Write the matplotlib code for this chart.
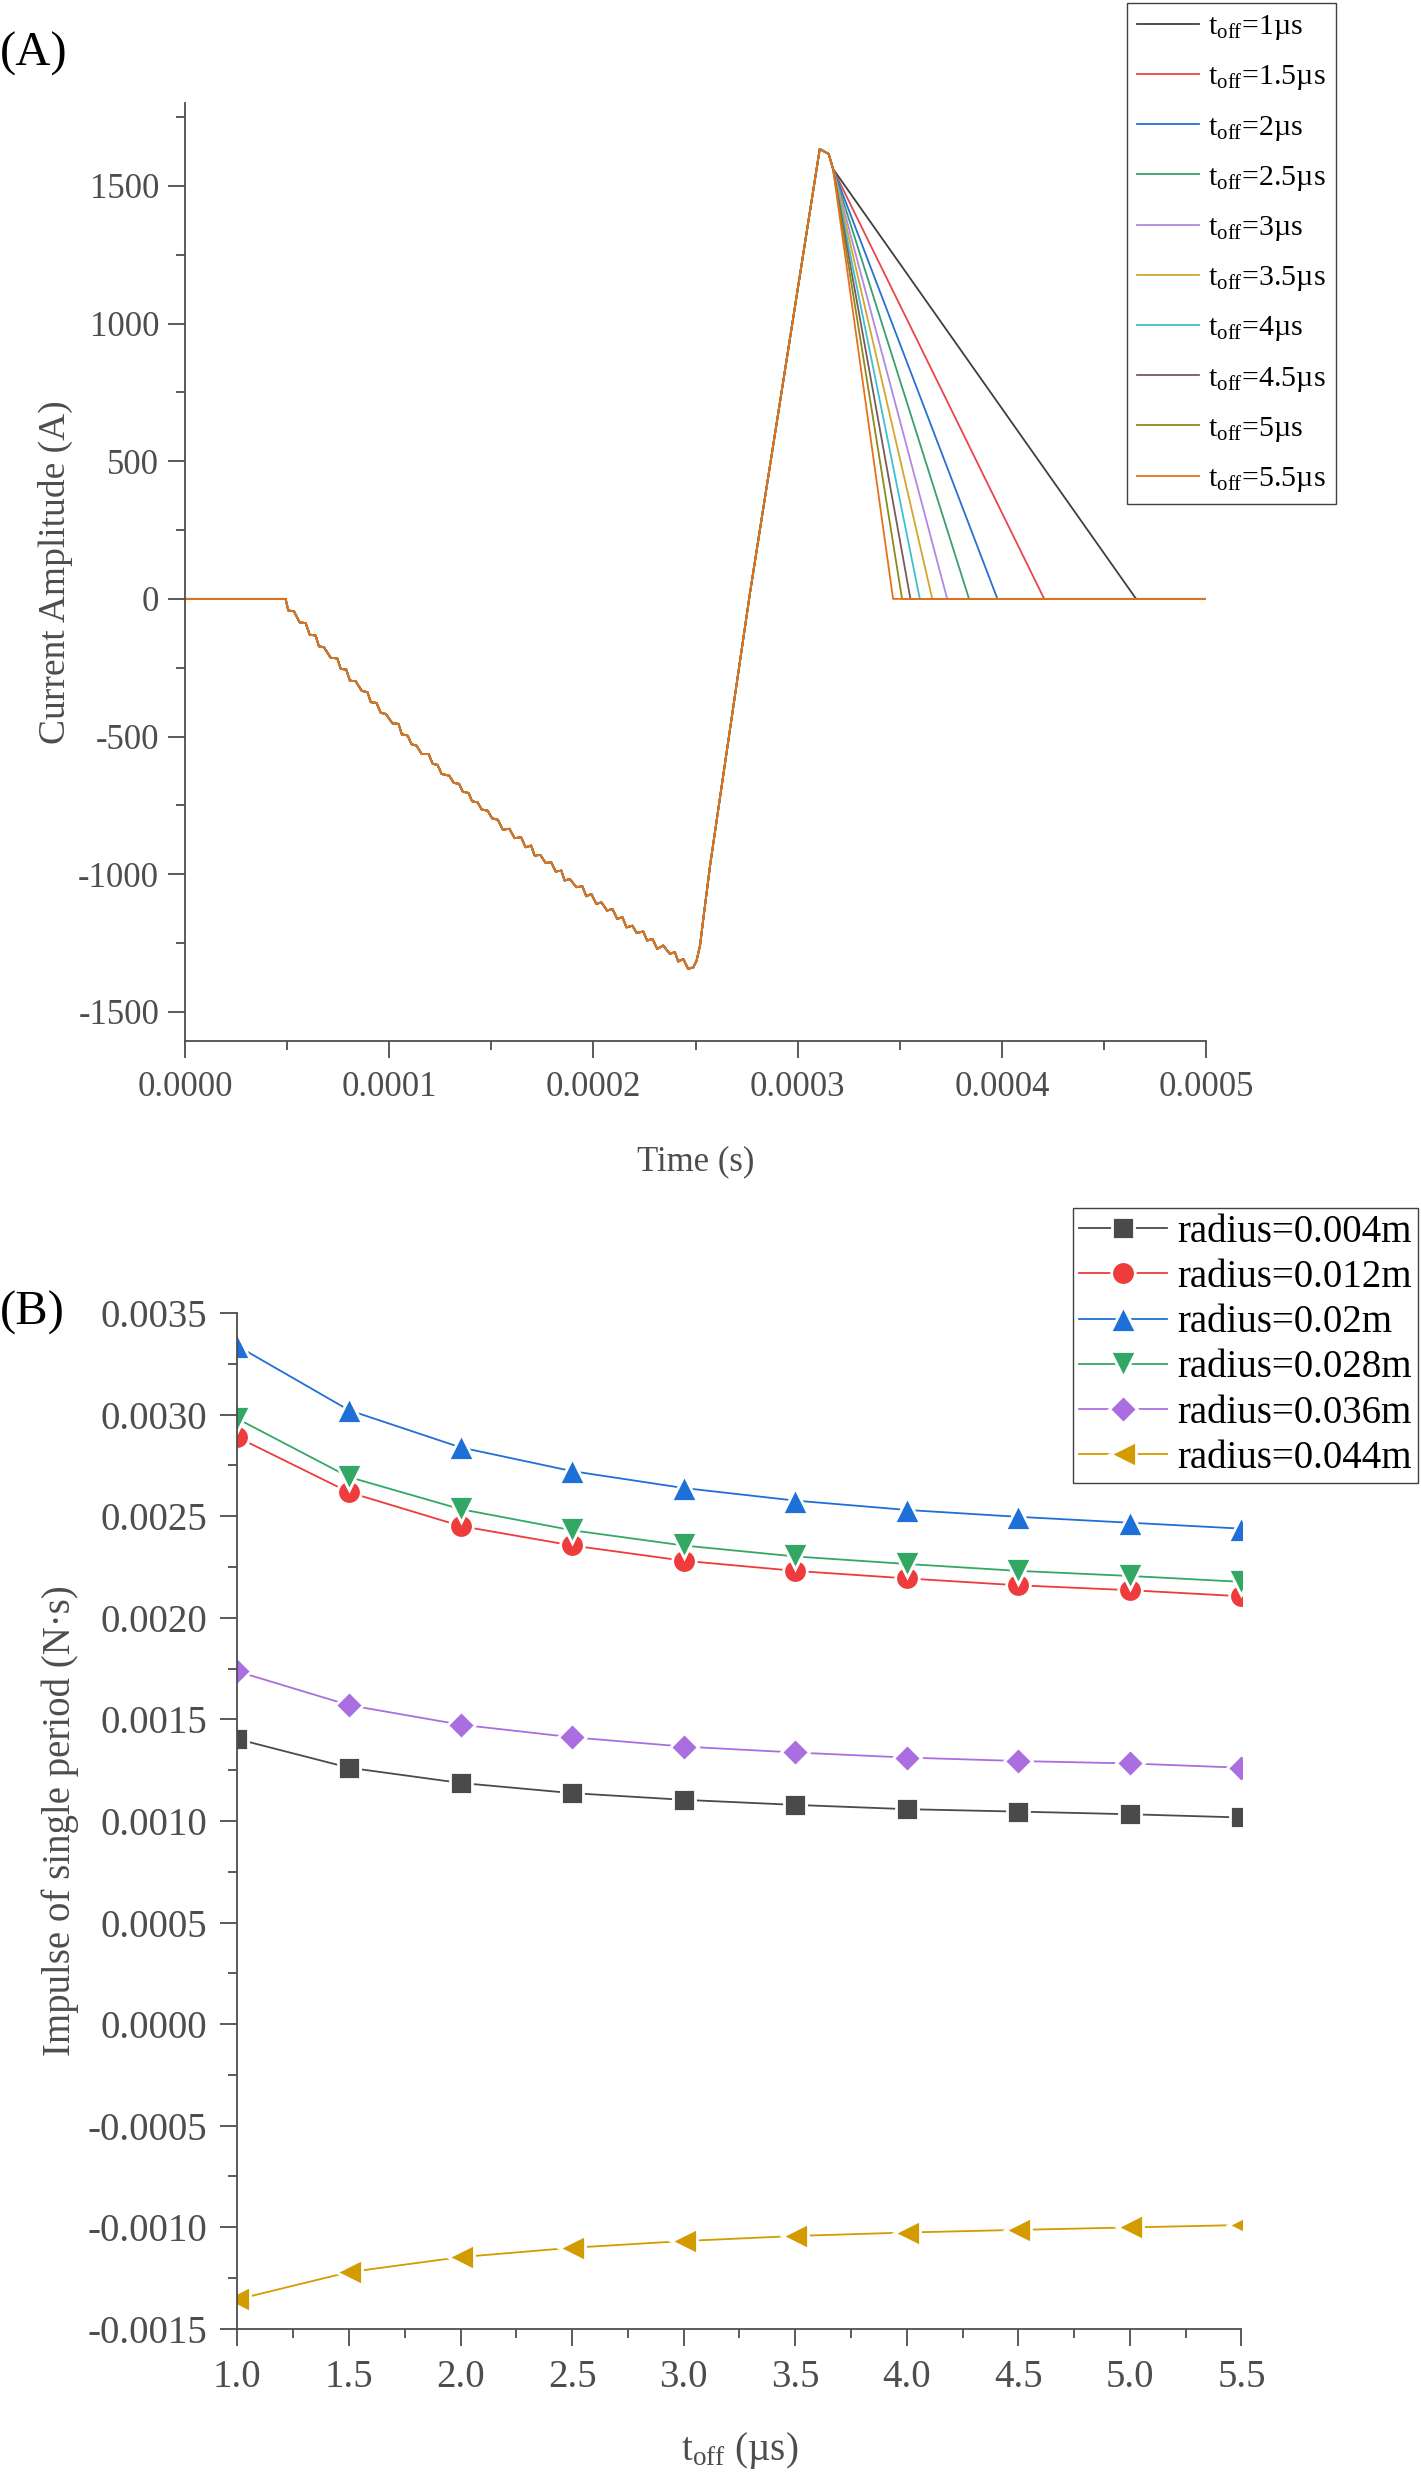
import matplotlib
matplotlib.use("Agg")
import matplotlib.pyplot as plt
from matplotlib.ticker import MultipleLocator, FormatStrFormatter

plt.rcParams['font.family'] = ['Liberation Serif', 'DejaVu Serif']
plt.rcParams['mathtext.fontset'] = 'custom'
plt.rcParams['mathtext.rm'] = 'Liberation Serif'
plt.rcParams['mathtext.it'] = 'Liberation Serif:italic'
plt.rcParams['axes.unicode_minus'] = False

# ---------------- data: panel A (time in microseconds, current in A) ----------------
common_t_us = [0, 49.3, 50.6, 53.4, 56.1, 59.1, 61.1, 64.0, 65.6, 68.1, 71.4, 74.6, 76.3, 79.0,
               80.8, 83.6, 86.6, 89.4, 91.0, 93.8, 95.9, 98.4, 101.6, 104.6, 106.2, 109.0, 111.0,
               113.4, 115.9, 119.3, 121.3, 123.7, 125.7, 129.4, 131.6, 134.3, 136.0, 138.9, 140.6,
               143.3, 145.3, 148.2, 150.4, 153.2, 155.6, 158.9, 161.4, 164.6, 166.8, 169.5, 171.2,
               174.0, 176.6, 179.4, 181.5, 184.3, 185.9, 188.4, 191.6, 194.6, 196.5, 199.0, 201.4,
               203.9, 206.7, 209.3, 211.6, 214.2, 216.2, 219.1, 221.1, 224.4, 226.3, 228.9, 231.2,
               234.2, 237.4, 239.9, 241.5, 244.0, 246.4, 248.9, 250.5, 252.2, 253.8, 257.1, 263.3,
               276.7, 310.8, 315.2, 317.3]
common_I = [0, 0, -42, -45, -85, -88, -130, -133, -172, -176, -214, -216, -254, -257,
            -297, -299, -334, -339, -375, -378, -414, -418, -452, -454, -492, -496, -528,
            -533, -563, -563, -599, -603, -636, -642, -668, -672, -700, -705, -735,
            -739, -765, -769, -797, -802, -838, -835, -869, -866, -902, -896, -932,
            -930, -959, -957, -990, -987, -1023, -1017, -1047, -1044, -1080, -1072, -1108,
            -1102, -1132, -1126, -1162, -1156, -1193, -1187, -1213, -1208, -1241, -1235, -1271,
            -1259, -1289, -1283, -1317, -1308, -1344, -1338, -1314, -1259, -1162, -969, -654,
            24, 1634, 1616, 1562]

toff_labels = ['1', '1.5', '2', '2.5', '3', '3.5', '4', '4.5', '5', '5.5']
# zero-crossing time of the falling edge for each t_off (us)
tail_end_us = [465.7, 420.7, 397.8, 383.9, 373.2, 365.9, 359.8, 355.2, 351.1, 346.7]
t_final_us = 500.0
colors_A = ['#3f3f3f', '#e8464a', '#2a6fd2', '#38a06c', '#b487e0', '#d4a62c',
            '#3cc0d0', '#7a5a5a', '#8a8a1e', '#e8701c']

# ---------------- data: panel B ----------------
toff_B = [1.0, 1.5, 2.0, 2.5, 3.0, 3.5, 4.0, 4.5, 5.0, 5.5]
radius_labels = ['radius=0.004m', 'radius=0.012m', 'radius=0.02m',
                 'radius=0.028m', 'radius=0.036m', 'radius=0.044m']
imp_004 = [0.001403, 0.001262, 0.001187, 0.001137, 0.001104, 0.001079, 0.001058, 0.001046, 0.001033, 0.001017]
imp_012 = [0.002889, 0.002618, 0.002452, 0.002356, 0.002281, 0.002231, 0.002194, 0.002160, 0.002136, 0.002106]
imp_020 = [0.003338, 0.003022, 0.002839, 0.002722, 0.002639, 0.002577, 0.002531, 0.002497, 0.002468, 0.002439]
imp_028 = [0.002980, 0.002693, 0.002535, 0.002431, 0.002356, 0.002302, 0.002265, 0.002231, 0.002206, 0.002177]
imp_036 = [0.001736, 0.001570, 0.001474, 0.001412, 0.001366, 0.001337, 0.001312, 0.001295, 0.001283, 0.001262]
imp_044 = [-0.001355, -0.001221, -0.001147, -0.001101, -0.001068, -0.001043, -0.001026, -0.001013, -0.001001, -0.000989]
colors_B = ['#4a4a4a', '#ee3b3b', '#1f6fd8', '#33a864', '#aa6ee0', '#d39b00']
markers_B = ['s', 'o', '^', 'v', 'D', '<']
msizes_B = [16, 17, 19, 19, 14, 19]

W, H = 1421, 2475
fig = plt.figure(figsize=(W / 100, H / 100), dpi=100)

grey = '#4d4d4d'

def style_axes(ax, tick_fs):
    for s in ['top', 'right']:
        ax.spines[s].set_visible(False)
    for s in ['left', 'bottom']:
        ax.spines[s].set_color(grey)
        ax.spines[s].set_linewidth(1.3)
    ax.tick_params(which='major', direction='out', length=12.5, width=1.3, color=grey,
                   labelsize=tick_fs, labelcolor=grey)
    ax.tick_params(which='minor', direction='out', length=6.5, width=1.3, color=grey)

# ---------------- panel A ----------------
axA = fig.add_axes([184.9 / W, 1 - 1040.8 / H, (1206.2 - 184.9) / W, (1040.8 - 103.3) / H])
for i, lab in enumerate(toff_labels):
    t = [v * 1e-6 for v in common_t_us] + [tail_end_us[i] * 1e-6, t_final_us * 1e-6]
    I = list(common_I) + [0, 0]
    axA.plot(t, I, color=colors_A[i], lw=1.3,
             label=r'$\mathrm{t}_{\mathrm{off}}$=' + lab + 'µs')
axA.set_xlim(0, 0.0005)
axA.set_ylim(-1605, 1800)
axA.xaxis.set_major_locator(MultipleLocator(0.0001))
axA.xaxis.set_minor_locator(MultipleLocator(0.00005))
axA.xaxis.set_major_formatter(FormatStrFormatter('%.4f'))
axA.yaxis.set_major_locator(MultipleLocator(500))
axA.yaxis.set_minor_locator(MultipleLocator(250))
axA.yaxis.set_major_formatter(FormatStrFormatter('%d'))
style_axes(axA, 25)
axA.tick_params(axis='y', which='major', pad=6)
axA.tick_params(axis='x', which='major', pad=9)
axA.set_xlabel('Time (s)', fontsize=25, color=grey, labelpad=30)
axA.set_ylabel('Current Amplitude (A)', fontsize=27, color=grey, labelpad=4)
legA = axA.legend(loc='upper left', bbox_to_anchor=(1126.7 / W, 1 - 3.4 / H),
                  bbox_transform=fig.transFigure, fontsize=21.5, frameon=True, fancybox=False,
                  edgecolor='#404040', framealpha=1, handlelength=2.1, handletextpad=0.3,
                  labelspacing=0.71, borderpad=0.33, borderaxespad=0)
legA.get_frame().set_linewidth(1.0)

# ---------------- panel B ----------------
axB = fig.add_axes([237.4 / W, 1 - 2328.8 / H, (1241.5 - 237.4) / W, (2328.8 - 1313.1) / H])
series_B = [imp_004, imp_012, imp_020, imp_028, imp_036, imp_044]
for i, ys in enumerate(series_B):
    axB.plot(toff_B, ys, color=colors_B[i], lw=1.3, marker=markers_B[i], ms=msizes_B[i],
             markerfacecolor=colors_B[i], markeredgecolor='white', markeredgewidth=2.0,
             label=radius_labels[i])
axB.set_xlim(1.0, 5.5)
axB.set_ylim(-0.0015, 0.0035)
axB.xaxis.set_major_locator(MultipleLocator(0.5))
axB.xaxis.set_minor_locator(MultipleLocator(0.25))
axB.xaxis.set_major_formatter(FormatStrFormatter('%.1f'))
axB.yaxis.set_major_locator(MultipleLocator(0.0005))
axB.yaxis.set_minor_locator(MultipleLocator(0.00025))
axB.yaxis.set_major_formatter(FormatStrFormatter('%.4f'))
style_axes(axB, 28)
axB.tick_params(axis='y', which='major', pad=9)
axB.tick_params(axis='x', which='major', pad=9)
axB.set_xlabel(r'$\mathrm{t}_{\mathrm{off}}$ (µs)', fontsize=28, color=grey, labelpad=25)
axB.set_ylabel('Impulse of single period (N·s)', fontsize=28, color=grey, labelpad=6)
legB = axB.legend(loc='upper left', bbox_to_anchor=(1072.7 / W, 1 - 1207.7 / H),
                  bbox_transform=fig.transFigure, fontsize=28, frameon=True, fancybox=False,
                  edgecolor='#404040', framealpha=1, handlelength=2.27, handletextpad=0.26,
                  labelspacing=0.21, borderpad=0.16, borderaxespad=0, numpoints=1)
legB.get_frame().set_linewidth(1.0)

fig.text(33.5 / W, 1 - 53.6 / H, '(A)', fontsize=35, ha='center', va='center', color='black')
fig.text(32.0 / W, 1 - 1313.0 / H, '(B)', fontsize=35, ha='center', va='center', color='black')

fig.savefig('out.png', dpi=100)
